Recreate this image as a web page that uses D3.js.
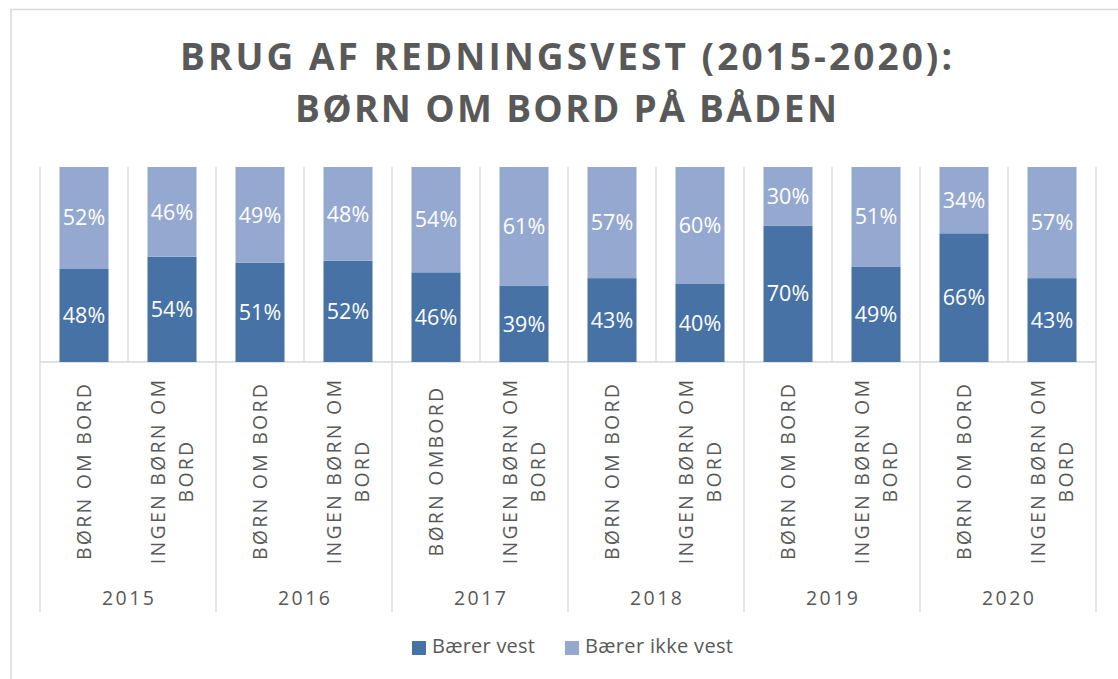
<!DOCTYPE html>
<html>
<head>
<meta charset="utf-8">
<script src="https://cdn.jsdelivr.net/npm/d3@7"></script>
<style>
  body { margin: 0; background: #fff; }
  svg text { font-family: "Open Sans", sans-serif; }
</style>
</head>
<body>
<div class="chart-wrapper"></div>
<script>
const years = ['2015', '2016', '2017', '2018', '2019', '2020'];
const categories = [
  'BØRN OM BORD', 'INGEN BØRN OM BORD',
  'BØRN OM BORD', 'INGEN BØRN OM BORD',
  'BØRN OMBORD', 'INGEN BØRN OM BORD',
  'BØRN OM BORD', 'INGEN BØRN OM BORD',
  'BØRN OM BORD', 'INGEN BØRN OM BORD',
  'BØRN OM BORD', 'INGEN BØRN OM BORD'
];
const vest = [48, 54, 51, 52, 46, 39, 43, 40, 70, 49, 66, 43];
const noVest = [52, 46, 49, 48, 54, 61, 57, 60, 30, 51, 34, 57];
const seriesNames = ['Bærer vest', 'Bærer ikke vest'];
const titleLines = ['BRUG AF REDNINGSVEST (2015-2020):', 'BØRN OM BORD PÅ BÅDEN'];

const width = 1118, height = 679;
const colors = ['#4672a6', '#95a9d0'];
const grid = '#d9d9d9';
const textCol = '#595959';

const svg = d3.select('.chart-wrapper')
  .append('svg')
  .attr('width', width)
  .attr('height', height);

// chart frame
svg.append('rect')
  .attr('x', 11).attr('y', 9.5)
  .attr('width', 1130).attr('height', 700)
  .attr('fill', '#fff')
  .attr('stroke', grid)
  .attr('stroke-width', 1.5);

// stretch text to a given width using letter-spacing
function spread(sel, target) {
  sel.style('letter-spacing', '0px');
  const w = sel.node().getComputedTextLength();
  const n = sel.text().length;
  const ls = (target - w) / (n - 1);
  sel.style('letter-spacing', ls + 'px');
  return ls;
}

// title
const titleWidths = [772, 542];
const titleBase = [70, 122];
titleLines.forEach((t, i) => {
  const txt = svg.append('text')
    .attr('y', titleBase[i])
    .attr('font-size', 37)
    .attr('font-weight', 700)
    .attr('fill', textCol)
    .text(t);
  spread(txt, titleWidths[i]);
  txt.attr('x', 566 - titleWidths[i] / 2);
});

const ids = d3.range(categories.length);
const p = 0.443;
const x = d3.scaleBand()
  .domain(ids)
  .range([40, 1096])
  .paddingInner(p)
  .paddingOuter(p / 2);

const y = d3.scaleLinear()
  .domain([0, 100])
  .range([362, 167]);

const step = x.step();
const edge = i => x(i) - step * p / 2;

// gridlines between categories (plot area)
svg.append('g')
  .selectAll('line')
  .data(d3.range(categories.length + 1))
  .enter()
  .append('line')
  .attr('x1', d => (d < categories.length ? edge(d) : edge(d - 1) + step))
  .attr('x2', d => (d < categories.length ? edge(d) : edge(d - 1) + step))
  .attr('y1', y(100))
  .attr('y2', d => (d % 2 === 0 ? 612 : y(0)))
  .attr('stroke', grid)
  .attr('stroke-width', 1.3);

// axis line
svg.append('line')
  .attr('x1', 40).attr('x2', 1096)
  .attr('y1', y(0)).attr('y2', y(0))
  .attr('stroke', grid)
  .attr('stroke-width', 1.3);

// stacked bars
const stacked = ids.map(i => ({ i, vals: [vest[i], noVest[i]] }));
const bars = svg.append('g');

stacked.forEach(d => {
  let base = 0;
  d.vals.forEach((v, s) => {
    bars.append('rect')
      .attr('x', x(d.i))
      .attr('width', x.bandwidth())
      .attr('y', y(base + v))
      .attr('height', y(base) - y(base + v))
      .attr('fill', colors[s]);
    bars.append('text')
      .attr('x', x(d.i) + x.bandwidth() / 2)
      .attr('y', (y(base) + y(base + v)) / 2)
      .attr('dy', '0.36em')
      .attr('text-anchor', 'middle')
      .attr('font-size', 21.5)
      .attr('fill', '#fff')
      .text(v + '%');
    base += v;
  });
});

// category labels, rotated
function wrap(label, max) {
  const words = label.split(' ');
  const lines = [];
  let cur = '';
  words.forEach(w => {
    const next = cur ? cur + ' ' + w : w;
    if (next.length > max && cur) { lines.push(cur); cur = w; }
    else cur = next;
  });
  lines.push(cur);
  return lines;
}

const probe = svg.append('text')
  .attr('font-size', 19.5)
  .text('BØRN OM BORD');
const catSpacing = spread(probe, 176);
probe.remove();

const catG = svg.append('g');
ids.forEach(i => {
  const lines = wrap(categories[i], 13);
  const cx = x(i) + x.bandwidth() / 2;
  lines.forEach((ln, k) => {
    const off = (k - (lines.length - 1) / 2) * 28;
    catG.append('text')
      .attr('transform', `translate(${cx + off},471) rotate(-90)`)
      .attr('text-anchor', 'middle')
      .attr('dy', '0.36em')
      .attr('font-size', 19.5)
      .attr('fill', textCol)
      .style('letter-spacing', catSpacing + 'px')
      .text(ln);
  });
});

// year labels
years.forEach((yr, j) => {
  const txt = svg.append('text')
    .attr('y', 605)
    .attr('font-size', 19.5)
    .attr('fill', textCol)
    .text(yr);
  spread(txt, 52);
  txt.attr('x', edge(j * 2) + step - 26);
});

// legend
const legX = [412, 565];
const legW = [103, 148];
seriesNames.forEach((name, s) => {
  svg.append('rect')
    .attr('x', legX[s]).attr('y', 641)
    .attr('width', 14).attr('height', 14)
    .attr('fill', colors[s]);
  const txt = svg.append('text')
    .attr('x', legX[s] + 20)
    .attr('y', 653)
    .attr('font-size', 20)
    .attr('fill', textCol)
    .text(name);
  spread(txt, legW[s]);
});
</script>
</body>
</html>
